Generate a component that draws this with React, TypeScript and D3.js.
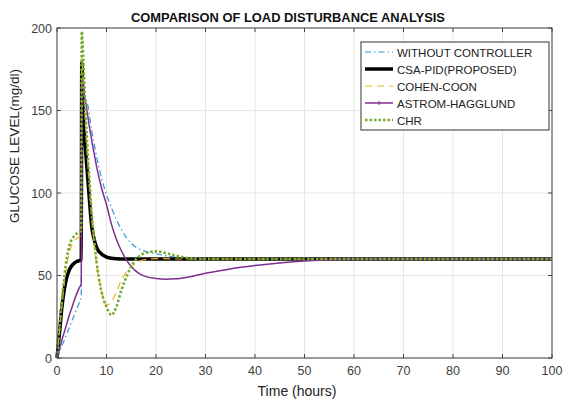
import * as d3 from "d3";

// time axis (hours), shared by every series
const time = [0, 0.5, 1, 1.5, 2, 2.5, 3, 3.5, 4, 4.5, 4.9, 5, 5.3, 5.6, 6, 6.5, 7, 7.5, 8, 9, 10, 11, 12, 13, 14, 15, 16, 17, 18, 20, 22, 24, 26, 28, 30, 35, 40, 45, 50, 55, 60, 70, 80, 90, 100];

// glucose level (mg/dl) per controller
const withoutController = [0, 3.5, 7.5, 11, 15, 18.5, 22.5, 26, 30, 33.5, 37, 140, 153, 157, 156, 148, 138, 130, 122, 109, 99, 91, 84, 78, 73, 69.5, 67, 65.5, 64.5, 63.2, 62, 61, 60.4, 60, 60, 60, 60, 60, 60, 60, 60, 60, 60, 60, 60];
const csaPid = [0, 15, 31, 42, 49, 53.5, 56, 57.5, 58.5, 59, 59.5, 179, 150, 133, 117, 98, 80, 72, 67, 63, 61.2, 60.4, 60.1, 60, 60, 60, 60, 60, 60, 60, 60, 60, 60, 60, 60, 60, 60, 60, 60, 60, 60, 60, 60, 60, 60];
const cohenCoon = [0, 16, 32, 46, 57, 64, 68.5, 71, 72.5, 73.5, 74, 182, 168, 150, 128, 106, 86, 70, 57, 41, 32, 34, 40, 47, 52, 55.5, 57.5, 59, 59.8, 60.2, 60.2, 60, 60, 60, 60, 60, 60, 60, 60, 60, 60, 60, 60, 60, 60];
const astromHagglund = [0, 5.5, 11, 16, 21, 26, 30.5, 35, 39, 42.5, 45, 169, 165, 158, 151, 141, 132, 124, 116, 103, 93, 81, 72, 65, 59.5, 55.5, 52.5, 50.5, 49.3, 48.2, 47.8, 48, 48.8, 50, 51.3, 54, 56, 57.6, 58.8, 59.5, 60, 60, 60, 60, 60];
const chr = [0, 18, 35, 50, 61, 68, 72, 74, 75.5, 76.5, 77, 198, 182, 160, 135, 110, 88, 72, 58, 40, 31, 26, 31, 41, 49, 55.5, 60, 62.5, 63.8, 64.6, 63.6, 62, 60.8, 60.2, 60, 60, 60, 60, 60, 60, 60, 60, 60, 60, 60];

const seriesNames = ["WITHOUT CONTROLLER", "CSA-PID(PROPOSED)", "COHEN-COON", "ASTROM-HAGGLUND", "CHR"];
const xTicks = [0, 10, 20, 30, 40, 50, 60, 70, 80, 90, 100];
const yTicks = [0, 50, 100, 150, 200];

const W = 564;
const H = 403;
const margin = { top: 28, right: 12, bottom: 45, left: 57 };
const font = "'Liberation Sans', Arial, sans-serif";

const styles = [
  { color: "#3594da", width: 1.2, dash: "6,3,1.5,3" },
  { color: "#000000", width: 3.5, dash: "" },
  { color: "#EDB120", width: 1.2, dash: "7,5" },
  { color: "#7E2F8E", width: 1.5, dash: "" },
  { color: "#77AC30", width: 2.6, dash: "2.5,2" },
];

export default function App() {
  const innerW = W - margin.left - margin.right;
  const innerH = H - margin.top - margin.bottom;

  const x = d3.scaleLinear().domain([0, 100]).range([0, innerW]);
  const y = d3.scaleLinear().domain([0, 200]).range([innerH, 0]);

  const allSeries = [withoutController, csaPid, cohenCoon, astromHagglund, chr];
  const line = d3
    .line<number>()
    .x((_, i) => x(time[i]))
    .y((d) => y(d))
    .curve(d3.curveMonotoneX);

  const legend = { x: 361 - margin.left, y: 42 - margin.top, w: 188, h: 88 };

  return (
    <svg width={W} height={H} style={{ position: "absolute", left: 0, top: 0, background: "#fff" }}>
      <text x={288} y={22} textAnchor="middle" fontFamily={font} fontWeight="bold" fontSize={12.9} fill="#111">
        COMPARISON OF LOAD DISTURBANCE ANALYSIS
      </text>
      <g transform={`translate(${margin.left},${margin.top})`}>
        {/* grid */}
        {xTicks.map((t) => (
          <line key={"gx" + t} x1={x(t)} x2={x(t)} y1={0} y2={innerH} stroke="#e6e6e6" />
        ))}
        {yTicks.map((t) => (
          <line key={"gy" + t} x1={0} x2={innerW} y1={y(t)} y2={y(t)} stroke="#e6e6e6" />
        ))}

        {/* curves */}
        {allSeries.map((s, i) => (
          <path
            key={i}
            d={line(s) ?? ""}
            fill="none"
            stroke={styles[i].color}
            strokeWidth={styles[i].width}
            strokeDasharray={styles[i].dash}
          />
        ))}

        {/* axes box + ticks */}
        <rect x={0} y={0} width={innerW} height={innerH} fill="none" stroke="#444" strokeWidth={1} />
        {xTicks.map((t) => (
          <g key={"tx" + t}>
            <line x1={x(t)} x2={x(t)} y1={innerH} y2={innerH - 4} stroke="#444" />
            <line x1={x(t)} x2={x(t)} y1={0} y2={4} stroke="#444" />
            <text x={x(t)} y={innerH + 17} textAnchor="middle" fontFamily={font} fontSize={12.5} fill="#404040">
              {t}
            </text>
          </g>
        ))}
        {yTicks.map((t) => (
          <g key={"ty" + t}>
            <line x1={0} x2={4} y1={y(t)} y2={y(t)} stroke="#444" />
            <line x1={innerW} x2={innerW - 4} y1={y(t)} y2={y(t)} stroke="#444" />
            <text x={-5} y={y(t) + 4.5} textAnchor="end" fontFamily={font} fontSize={12.5} fill="#404040">
              {t}
            </text>
          </g>
        ))}

        {/* legend */}
        <rect x={legend.x} y={legend.y} width={legend.w} height={legend.h} fill="#fff" stroke="#333" strokeWidth={1} />
        {seriesNames.map((name, i) => {
          const ly = legend.y + 10 + i * 17;
          return (
            <g key={name}>
              <line
                x1={legend.x + 4}
                x2={legend.x + 32}
                y1={ly}
                y2={ly}
                stroke={styles[i].color}
                strokeWidth={i === 1 ? 3.5 : styles[i].width}
                strokeDasharray={styles[i].dash}
              />
              {i === 3 && (
                <line x1={legend.x + 18} x2={legend.x + 18} y1={ly - 2} y2={ly + 2} stroke={styles[i].color} />
              )}
              <text x={legend.x + 36} y={ly + 4.5} fontFamily={font} fontSize={11.5} fill="#222">
                {name}
              </text>
            </g>
          );
        })}
      </g>

      <text
        transform={`translate(19,146) rotate(-90)`}
        textAnchor="middle"
        fontFamily={font}
        fontSize={13.5}
        fill="#222"
      >
        GLUCOSE LEVEL(mg/dl)
      </text>
      <text x={297} y={396} textAnchor="middle" fontFamily={font} fontSize={14} fill="#222">
        Time (hours)
      </text>
    </svg>
  );
}
